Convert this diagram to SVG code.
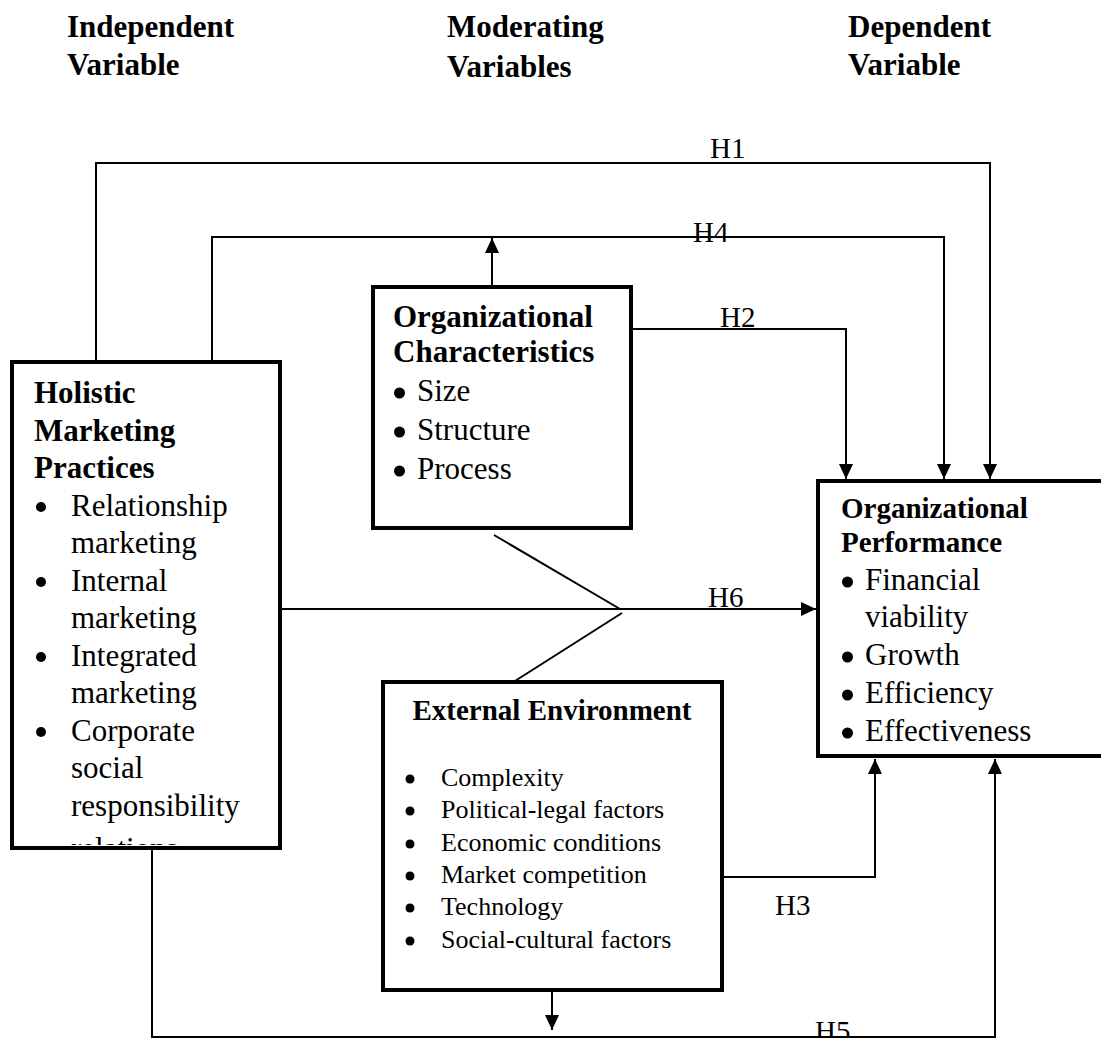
<svg xmlns="http://www.w3.org/2000/svg" width="1101" height="1038" viewBox="0 0 1101 1038">
<style>
text { font-family: "Liberation Serif", "Times New Roman", serif; fill: #000; }
.hdr { font-size: 31px; font-weight: bold; }
.ttl { font-size: 31px; font-weight: bold; }
.ttl2 { font-size: 29px; font-weight: bold; }
.itm { font-size: 31px; }
.itm2 { font-size: 26px; }
.lbl { font-size: 29px; }
.box { fill: #fff; stroke: #000; stroke-width: 4; }
.con { fill: none; stroke: #000; stroke-width: 2; }
.bul { fill: #000; }
</style>
<defs>
<marker id="arr" markerUnits="userSpaceOnUse" markerWidth="15" markerHeight="14" viewBox="0 0 15 14" refX="15" refY="7" orient="auto">
<path d="M0,0 L15,7 L0,14 z" fill="#000"/>
</marker>
<clipPath id="clipHol"><rect x="14" y="364" width="264" height="481"/></clipPath>
</defs>
<rect width="1101" height="1038" fill="#fff"/>

<g id="headers">
<text class="hdr" x="67" y="37">Independent</text>
<text class="hdr" x="67" y="75">Variable</text>
<text class="hdr" x="447" y="37">Moderating</text>
<text class="hdr" x="447" y="77">Variables</text>
<text class="hdr" x="848" y="37">Dependent</text>
<text class="hdr" x="848" y="75">Variable</text>
</g>

<g id="connectors">
<polyline class="con" points="96,362 96,163 990,163 990,479" marker-end="url(#arr)"/>
<polyline class="con" points="212,362 212,237 944,237 944,479" marker-end="url(#arr)"/>
<line class="con" x1="492" y1="287" x2="492" y2="238" marker-end="url(#arr)"/>
<polyline class="con" points="631,329 846,329 846,479" marker-end="url(#arr)"/>
<line class="con" x1="280" y1="609" x2="816" y2="609" marker-end="url(#arr)"/>
<line class="con" x1="494" y1="535" x2="620" y2="609"/>
<line class="con" x1="622" y1="613" x2="515" y2="681"/>
<polyline class="con" points="722,877 875,877 875,759" marker-end="url(#arr)"/>
<polyline class="con" points="152,848 152,1037 995,1037 995,759" marker-end="url(#arr)"/>
<line class="con" x1="552" y1="990" x2="552" y2="1030" marker-end="url(#arr)"/>
<text class="lbl" x="710" y="158">H1</text>
<text class="lbl" x="693" y="242">H4</text>
<text class="lbl" x="720" y="327">H2</text>
<text class="lbl" x="708" y="607">H6</text>
<text class="lbl" x="775" y="915">H3</text>
<text class="lbl" x="815" y="1041">H5</text>
</g>

<g id="holistic">
<rect class="box" x="12" y="362" width="268" height="486"/>
<g clip-path="url(#clipHol)">
<text class="ttl" x="34" y="403">Holistic</text>
<text class="ttl" x="34" y="440.5">Marketing</text>
<text class="ttl" x="34" y="478">Practices</text>
<circle class="bul" cx="41" cy="507" r="5"/>
<text class="itm" x="71" y="515.5">Relationship</text>
<text class="itm" x="71" y="553">marketing</text>
<circle class="bul" cx="41" cy="582" r="5"/>
<text class="itm" x="71" y="590.5">Internal</text>
<text class="itm" x="71" y="628">marketing</text>
<circle class="bul" cx="41" cy="657" r="5"/>
<text class="itm" x="71" y="665.5">Integrated</text>
<text class="itm" x="71" y="703">marketing</text>
<circle class="bul" cx="41" cy="732" r="5"/>
<text class="itm" x="71" y="740.5">Corporate</text>
<text class="itm" x="71" y="778">social</text>
<text class="itm" x="71" y="815.5">responsibility</text>
<text class="itm" x="71" y="859">relations</text>
</g>
</g>

<g id="orgchar">
<rect class="box" x="373" y="287" width="258" height="241"/>
<text class="ttl" x="393" y="327">Organizational</text>
<text class="ttl" x="393" y="362">Characteristics</text>
<circle class="bul" cx="399.5" cy="393" r="5.5"/>
<text class="itm" x="417" y="401">Size</text>
<circle class="bul" cx="399.5" cy="432" r="5.5"/>
<text class="itm" x="417" y="440">Structure</text>
<circle class="bul" cx="399.5" cy="471" r="5.5"/>
<text class="itm" x="417" y="479">Process</text>
</g>

<g id="extenv">
<rect class="box" x="383" y="682" width="339" height="308"/>
<text class="ttl2" x="552" y="720" text-anchor="middle">External Environment</text>
<circle class="bul" cx="410" cy="779" r="4.5"/>
<text class="itm2" x="441" y="786">Complexity</text>
<circle class="bul" cx="410" cy="811" r="4.5"/>
<text class="itm2" x="441" y="818">Political-legal factors</text>
<circle class="bul" cx="410" cy="844" r="4.5"/>
<text class="itm2" x="441" y="851">Economic conditions</text>
<circle class="bul" cx="410" cy="876" r="4.5"/>
<text class="itm2" x="441" y="883">Market competition</text>
<circle class="bul" cx="410" cy="908" r="4.5"/>
<text class="itm2" x="441" y="915">Technology</text>
<circle class="bul" cx="410" cy="941" r="4.5"/>
<text class="itm2" x="441" y="948">Social-cultural factors</text>
</g>

<g id="orgperf">
<rect class="box" x="818" y="481" width="300" height="275"/>
<text class="ttl2" x="841" y="518">Organizational</text>
<text class="ttl2" x="841" y="552">Performance</text>
<circle class="bul" cx="847.5" cy="582" r="5.5"/>
<text class="itm" x="865" y="590">Financial</text>
<text class="itm" x="865" y="627">viability</text>
<circle class="bul" cx="847.5" cy="657" r="5.5"/>
<text class="itm" x="865" y="665">Growth</text>
<circle class="bul" cx="847.5" cy="695" r="5.5"/>
<text class="itm" x="865" y="703">Efficiency</text>
<circle class="bul" cx="847.5" cy="733" r="5.5"/>
<text class="itm" x="865" y="741">Effectiveness</text>
</g>
</svg>
